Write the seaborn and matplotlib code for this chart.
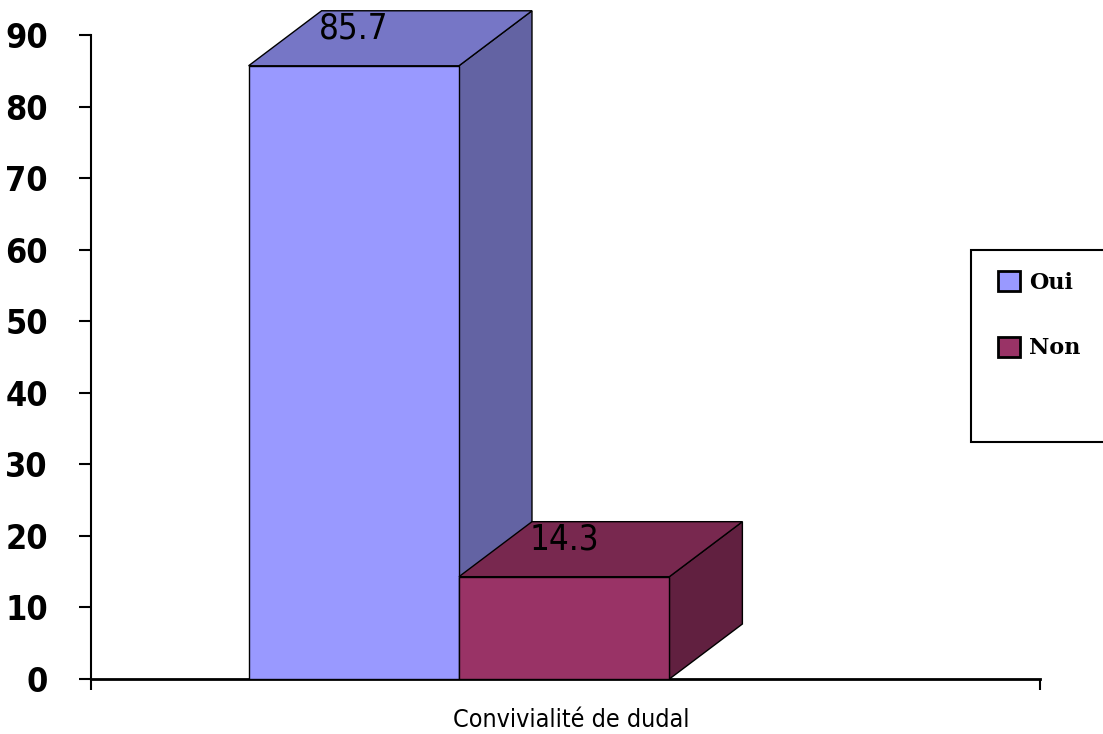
import matplotlib
matplotlib.use("Agg")
import matplotlib.pyplot as plt
from matplotlib.patches import Polygon, Rectangle, Patch
import seaborn as sns
import pandas as pd

# ---- data ----
category = ["Convivialité de dudal"]
series = ["Oui", "Non"]
values = [85.7, 14.3]
yticks = [0, 10, 20, 30, 40, 50, 60, 70, 80, 90]

front_colors = ["#9999FF", "#993366"]
top_colors = ["#7676C6", "#78284F"]
side_colors = ["#6363A3", "#612040"]

sns.set_theme(style="white")
NARROW = ["DejaVu Sans"]
plt.rcParams["font.family"] = NARROW
plt.rcParams["text.color"] = "black"

W, H = 1103, 734
fig = plt.figure(figsize=(W / 100, H / 100), dpi=100)
ax_left, ax_right, ax_top, ax_bottom = 91, 1040, 35, 679
ax = fig.add_axes([ax_left / W, (H - ax_bottom) / H,
                   (ax_right - ax_left) / W, (ax_bottom - ax_top) / H])

df = pd.DataFrame({"cat": category * len(series), "serie": series, "val": values})
sns.barplot(data=df, x="cat", y="val", hue="serie", hue_order=series,
            palette=front_colors, edgecolor="black", linewidth=1,
            saturation=1, ax=ax, legend=False, zorder=3)

xmin, xmax = -0.6996, 1.1046
ax.set_xlim(xmin, xmax)
ax.set_ylim(0, 90)

ppx = (ax_right - ax_left) / (xmax - xmin)
ppy = (ax_bottom - ax_top) / 90.0
dx = 73 / ppx
dy = 55 / ppy

bars = sorted(ax.patches, key=lambda p: p.get_x())
for i, p in enumerate(bars):
    x0 = p.get_x()
    x1 = x0 + p.get_width()
    h = p.get_height()
    z = 3 + i * 2
    p.set_zorder(z + 1)
    top = Polygon([(x0, h), (x1, h), (x1 + dx, h + dy), (x0 + dx, h + dy)],
                  closed=True, facecolor=top_colors[i], edgecolor="black",
                  linewidth=1, clip_on=False, zorder=z)
    side = Polygon([(x1, 0), (x1, h), (x1 + dx, h + dy), (x1 + dx, dy)],
                   closed=True, facecolor=side_colors[i], edgecolor="black",
                   linewidth=1, clip_on=False, zorder=z)
    ax.add_patch(side)
    ax.add_patch(top)
    ax.annotate(f"{values[i]}", xy=((x0 + x1) / 2, h), xytext=(0, 27),
                textcoords="offset points", ha="center", va="center",
                fontsize=25, fontstretch="condensed", color="black",
                family=NARROW, zorder=20, annotation_clip=False)

# axes styling
for s in ["top", "right"]:
    ax.spines[s].set_visible(False)
ax.spines["left"].set_linewidth(1.5)
ax.spines["bottom"].set_linewidth(2)
ax.spines["left"].set_color("black")
ax.spines["bottom"].set_color("black")
ax.set_yticks(yticks)
ax.set_yticklabels([str(t) for t in yticks], fontsize=24.5, fontweight="bold",
                   fontstretch="condensed", family=NARROW)
ax.tick_params(axis="y", direction="out", length=9, width=1.5, pad=22,
               colors="black", left=True)
ax.set_xticks([xmin, xmax])
ax.set_xticklabels(["", ""])
ax.tick_params(axis="x", direction="out", length=8, width=1.5, bottom=True,
               colors="black")
ax.set_ylabel("")
ax.set_xlabel(category[0], fontsize=18, family=NARROW, fontstretch="condensed",
              color="black")
ax.xaxis.set_label_coords(0.506, -0.045)
ax.xaxis.label.set_va("top")
ax.grid(False)
ax.set_facecolor("white")

# legend
fig.patches.append(Rectangle((971 / W, (H - 442) / H), 140 / W, 192 / H,
                             transform=fig.transFigure, facecolor="white",
                             edgecolor="black", linewidth=1.5, zorder=1))
handles = [Patch(facecolor=c, edgecolor="black", linewidth=2) for c in front_colors]
leg = fig.legend(handles, series, loc="upper left",
                 bbox_to_anchor=(998 / W, (H - 271) / H), frameon=False,
                 handlelength=1.0, handleheight=1.0, handletextpad=0.4,
                 labelspacing=1.95, borderpad=0, borderaxespad=0,
                 labelcolor="black",
                 prop={"family": ["DejaVu Serif"], "weight": "black", "size": 16})
leg.set_zorder(5)

fig.savefig("out.png", dpi=100, facecolor="white")
